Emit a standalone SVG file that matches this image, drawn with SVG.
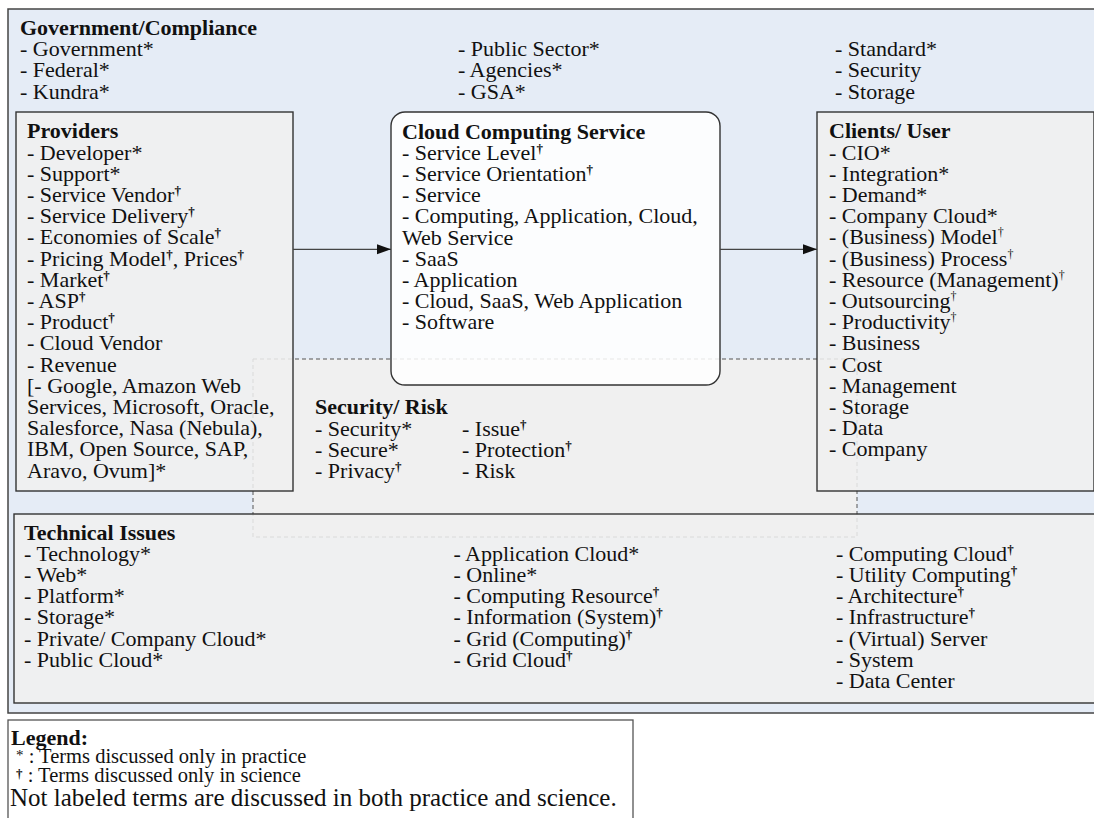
<svg xmlns="http://www.w3.org/2000/svg" width="1094" height="818" viewBox="0 0 1094 818">
<style>
text{font-family:"Liberation Serif","Times New Roman",serif;font-size:22px;fill:#111}
.b{font-weight:bold}
.d{font-size:13px;font-weight:bold}
.dt{font-size:12px;font-weight:normal}
.box{fill:#f0f0f0;fill-opacity:0.86;stroke:#333;stroke-width:1.4}
.conn{stroke:#444;stroke-width:1.3;fill:none}
</style>
<defs>
<marker id="ah" markerUnits="userSpaceOnUse" markerWidth="15" markerHeight="11" refX="14" refY="5" orient="auto">
<path d="M0,0 L14,5 L0,10 z" fill="#111"/>
</marker>
</defs>
<rect width="1094" height="818" fill="#ffffff"/>
<g id="government">
<rect x="8" y="9" width="1100" height="704" fill="#e5ecf6" stroke="#444" stroke-width="1.5"/>
<text class="b" x="20" y="35">Government/Compliance</text>
<text x="20" y="56.2">- Government*</text>
<text x="20" y="77.4">- Federal*</text>
<text x="20" y="98.6">- Kundra*</text>
<text x="458" y="56.2">- Public Sector*</text>
<text x="458" y="77.4">- Agencies*</text>
<text x="458" y="98.6">- GSA*</text>
<text x="835" y="56.2">- Standard*</text>
<text x="835" y="77.4">- Security</text>
<text x="835" y="98.6">- Storage</text>
</g>
<g id="security">
<rect x="253" y="359" width="604" height="178" fill="#f0f0f0" stroke="#555" stroke-width="1" stroke-dasharray="4,3"/>
<text class="b" x="315" y="414">Security/ Risk</text>
<text x="315" y="435.5">- Security*</text>
<text x="315" y="456.8">- Secure*</text>
<text x="315" y="478.1">- Privacy<tspan class="d" dy="-7">†</tspan></text>
<text x="462" y="435.5">- Issue<tspan class="d" dy="-7">†</tspan></text>
<text x="462" y="456.8">- Protection<tspan class="d" dy="-7">†</tspan></text>
<text x="462" y="478.1">- Risk</text>
</g>
<g id="providers">
<rect class="box" x="16" y="112" width="277" height="379"/>
<text class="b" x="27" y="138.3">Providers</text>
<text x="27" y="159.5">- Developer*</text>
<text x="27" y="180.7">- Support*</text>
<text x="27" y="201.9">- Service Vendor<tspan class="d" dy="-7">†</tspan></text>
<text x="27" y="223.1">- Service Delivery<tspan class="d" dy="-7">†</tspan></text>
<text x="27" y="244.3">- Economies of Scale<tspan class="d" dy="-7">†</tspan></text>
<text x="27" y="265.5">- Pricing Model<tspan class="d" dy="-7">†</tspan><tspan dy="7">, Prices</tspan><tspan class="d" dy="-7">†</tspan></text>
<text x="27" y="286.7">- Market<tspan class="d" dy="-7">†</tspan></text>
<text x="27" y="307.9">- ASP<tspan class="d" dy="-7">†</tspan></text>
<text x="27" y="329.1">- Product<tspan class="d" dy="-7">†</tspan></text>
<text x="27" y="350.3">- Cloud Vendor</text>
<text x="27" y="371.5">- Revenue</text>
<text x="27" y="392.7">[- Google, Amazon Web</text>
<text x="27" y="413.9">Services, Microsoft, Oracle,</text>
<text x="27" y="435.1">Salesforce, Nasa (Nebula),</text>
<text x="27" y="456.3">IBM, Open Source, SAP,</text>
<text x="27" y="477.5">Aravo, Ovum]*</text>
</g>
<g id="cloud-service">
<rect x="391" y="112" width="329" height="273" rx="14" ry="14" fill="#ffffff" fill-opacity="0.86" stroke="#333" stroke-width="1.4"/>
<text class="b" x="402" y="138.5">Cloud Computing Service</text>
<text x="402" y="159.7">- Service Level<tspan class="d" dy="-7">†</tspan></text>
<text x="402" y="180.9">- Service Orientation<tspan class="d" dy="-7">†</tspan></text>
<text x="402" y="202.1">- Service</text>
<text x="402" y="223.3">- Computing, Application, Cloud,</text>
<text x="402" y="244.5">Web Service</text>
<text x="402" y="265.7">- SaaS</text>
<text x="402" y="286.9">- Application</text>
<text x="402" y="308.1">- Cloud, SaaS, Web Application</text>
<text x="402" y="329.3">- Software</text>
</g>
<g id="clients">
<rect class="box" x="817" y="112" width="277" height="379"/>
<text class="b" x="829" y="138.3">Clients/ User</text>
<text x="829" y="159.5">- CIO*</text>
<text x="829" y="180.7">- Integration*</text>
<text x="829" y="201.9">- Demand*</text>
<text x="829" y="223.1">- Company Cloud*</text>
<text x="829" y="244.3">- (Business) Model<tspan class="dt" dy="-8">†</tspan></text>
<text x="829" y="265.5">- (Business) Process<tspan class="dt" dy="-8">†</tspan></text>
<text x="829" y="286.7">- Resource (Management)<tspan class="dt" dy="-8">†</tspan></text>
<text x="829" y="307.9">- Outsourcing<tspan class="dt" dy="-8">†</tspan></text>
<text x="829" y="329.1">- Productivity<tspan class="dt" dy="-8">†</tspan></text>
<text x="829" y="350.3">- Business</text>
<text x="829" y="371.5">- Cost</text>
<text x="829" y="392.7">- Management</text>
<text x="829" y="413.9">- Storage</text>
<text x="829" y="435.1">- Data</text>
<text x="829" y="456.3">- Company</text>
</g>
<g id="technical">
<rect class="box" x="14" y="514" width="1100" height="189"/>
<text class="b" x="24" y="539.5">Technical Issues</text>
<text x="24" y="560.8">- Technology*</text>
<text x="24" y="582">- Web*</text>
<text x="24" y="603.2">- Platform*</text>
<text x="24" y="624.4">- Storage*</text>
<text x="24" y="645.6">- Private/ Company Cloud*</text>
<text x="24" y="666.8">- Public Cloud*</text>
<text x="453.5" y="560.8">- Application Cloud*</text>
<text x="453.5" y="582">- Online*</text>
<text x="453.5" y="603.2">- Computing Resource<tspan class="d" dy="-7">†</tspan></text>
<text x="453.5" y="624.4">- Information (System)<tspan class="d" dy="-7">†</tspan></text>
<text x="453.5" y="645.6">- Grid (Computing)<tspan class="d" dy="-7">†</tspan></text>
<text x="453.5" y="666.8">- Grid Cloud<tspan class="d" dy="-7">†</tspan></text>
<text x="836" y="560.8">- Computing Cloud<tspan class="d" dy="-7">†</tspan></text>
<text x="836" y="582">- Utility Computing<tspan class="d" dy="-7">†</tspan></text>
<text x="836" y="603.2">- Architecture<tspan class="d" dy="-7">†</tspan></text>
<text x="836" y="624.4">- Infrastructure<tspan class="d" dy="-7">†</tspan></text>
<text x="836" y="645.6">- (Virtual) Server</text>
<text x="836" y="666.8">- System</text>
<text x="836" y="688">- Data Center</text>
</g>
<g id="connectors">
<path class="conn" d="M293,249.3 L391,249.3" marker-end="url(#ah)"/>
<path class="conn" d="M720,249.3 L817,249.3" marker-end="url(#ah)"/>
</g>
<g id="legend">
<rect x="8" y="720" width="625" height="110" fill="#ffffff" stroke="#555" stroke-width="1.3"/>
<text class="b" x="11" y="745">Legend:</text>
<text x="16" y="763" style="font-size:20.5px"><tspan style="font-size:15px" dy="-3">*</tspan><tspan dy="3"> : Terms discussed only in practice</tspan></text>
<text x="16" y="782" style="font-size:20.5px"><tspan class="d" dy="-4">†</tspan><tspan dy="4"> : Terms discussed only in science</tspan></text>
<text x="10" y="806" style="font-size:25px">Not labeled terms are discussed in both practice and science.</text>
</g>
</svg>
